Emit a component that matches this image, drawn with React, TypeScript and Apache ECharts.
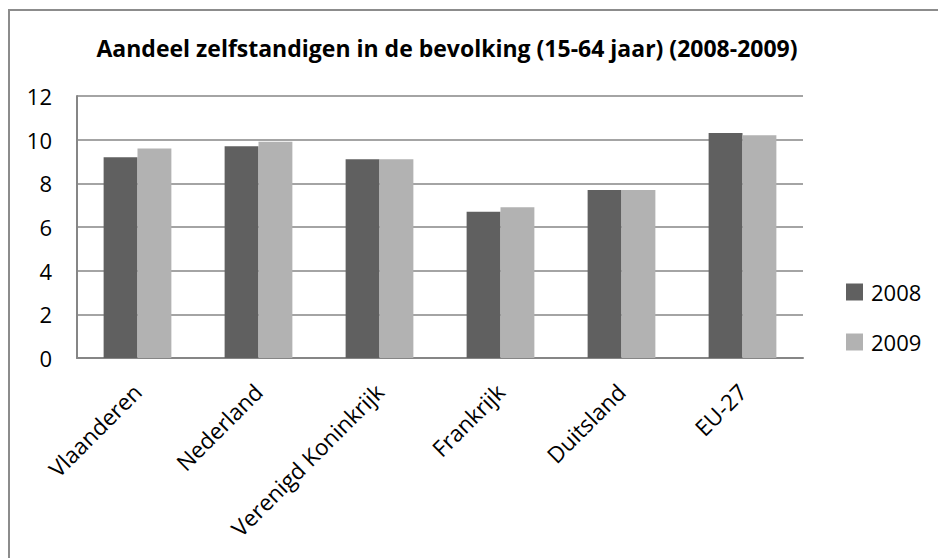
import React, { useEffect, useRef } from "react";
import * as echarts from "echarts";

const title = "Aandeel zelfstandigen in de bevolking (15-64 jaar) (2008-2009)";
const categories = ["Vlaanderen", "Nederland", "Verenigd Koninkrijk", "Frankrijk", "Duitsland", "EU-27"];
const seriesNames = ["2008", "2009"];
const values2008 = [9.2, 9.7, 9.1, 6.7, 7.7, 10.3];
const values2009 = [9.6, 9.9, 9.1, 6.9, 7.7, 10.2];
const colors = ["#606060", "#b2b2b2"];
const FONT = "'Open Sans', 'Liberation Sans', sans-serif";

export default function App() {
  const ref = useRef<HTMLDivElement>(null);
  useEffect(() => {
    if (!ref.current) return;
    const chart = echarts.init(ref.current, undefined, { renderer: "svg" });
    chart.setOption({
      animation: false,
      backgroundColor: "#ffffff",
      graphic: [
        {
          type: "rect",
          shape: { x: 9, y: 10, width: 1200, height: 1200 },
          style: { fill: "none", stroke: "#8c8c8c", lineWidth: 2 },
          silent: true,
        },
      ],
      title: {
        text: title,
        left: 442,
        textAlign: "center",
        top: 31,
        textStyle: { fontFamily: FONT, fontWeight: "bold", fontSize: 23, color: "#000" },
      },
      legend: {
        orient: "vertical",
        left: 841,
        top: 276,
        itemWidth: 17,
        itemHeight: 17,
        itemGap: 28,
        icon: "rect",
        data: seriesNames,
        textStyle: { fontFamily: FONT, fontSize: 22, lineHeight: 22, color: "#000", padding: [0, 0, 0, 3] },
      },
      grid: { left: 77, right: 135, top: 96, bottom: 200, containLabel: false },
      xAxis: {
        type: "category",
        data: categories,
        axisLine: { show: true, lineStyle: { color: "#868686", width: 2 } },
        axisTick: { show: false },
        axisLabel: {
          rotate: 45,
          margin: 30,
          interval: 0,
          fontFamily: FONT,
          fontSize: 22.5,
          color: "#000",
        },
      },
      yAxis: {
        type: "value",
        min: 0,
        max: 12,
        interval: 2,
        axisLine: { show: true, lineStyle: { color: "#868686", width: 2 } },
        axisTick: { show: false },
        splitLine: { show: true, lineStyle: { color: "#868686", width: 1.5 } },
        axisLabel: { margin: 25, fontFamily: FONT, fontSize: 22, color: "#000" },
      },
      series: [
        {
          name: seriesNames[0],
          type: "bar",
          data: values2008,
          itemStyle: { color: colors[0] },
          barGap: "0%",
          barCategoryGap: "44%",
        },
        {
          name: seriesNames[1],
          type: "bar",
          data: values2009,
          itemStyle: { color: colors[1] },
          barGap: "0%",
          barCategoryGap: "44%",
        },
      ],
    });
    return () => chart.dispose();
  }, []);
  return (
    <div
      ref={ref}
      style={{ position: "fixed", left: 0, top: 0, width: 938, height: 558 }}
    />
  );
}
